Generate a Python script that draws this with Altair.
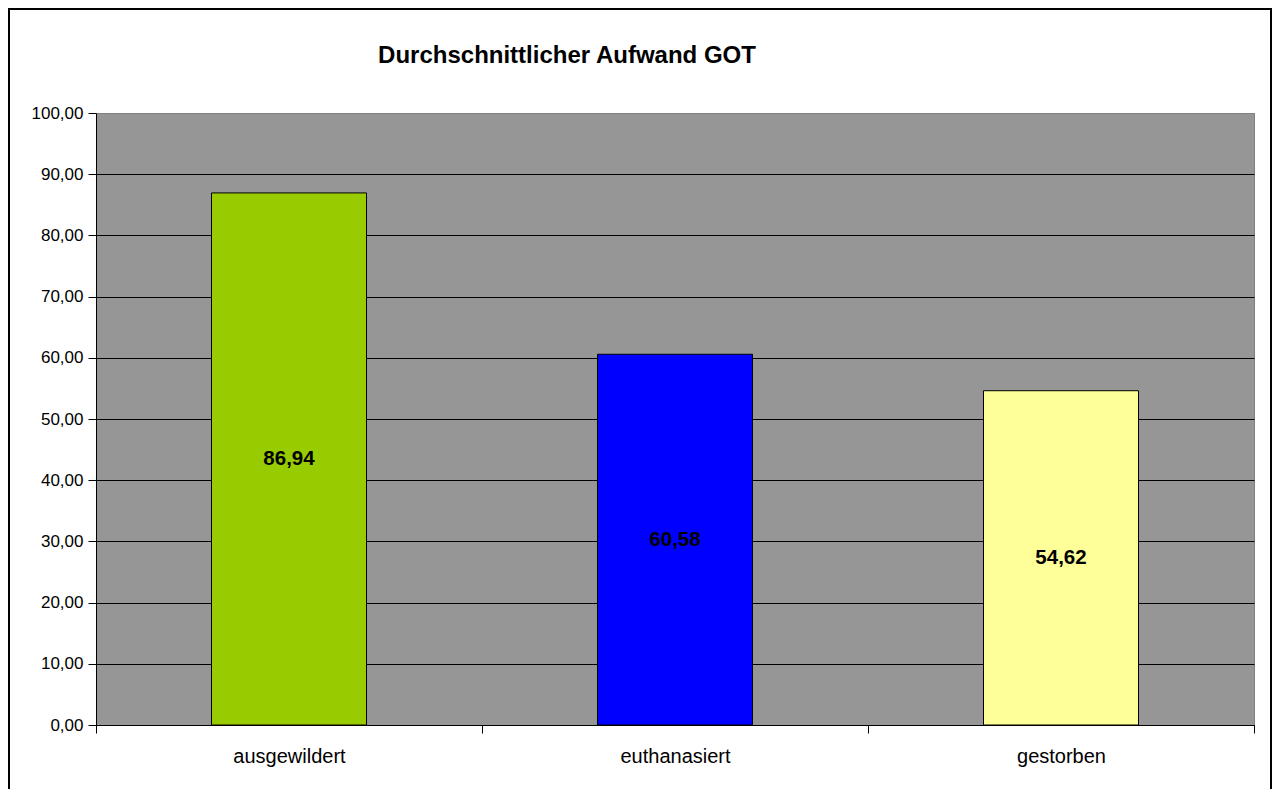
import altair as alt
import pandas as pd

categories = ["ausgewildert", "euthanasiert", "gestorben"]
values = [86.94, 60.58, 54.62]
labels = ["86,94", "60,58", "54,62"]
colors = ["#99CC00", "#0000FF", "#FFFF99"]
y_ticks = [0, 10, 20, 30, 40, 50, 60, 70, 80, 90, 100]
title_text = "Durchschnittlicher Aufwand GOT"

df = pd.DataFrame({"cat": categories, "val": values, "lab": labels})

FONT = "Liberation Sans"

x_enc = alt.X(
    "cat:N",
    sort=categories,
    scale=alt.Scale(paddingInner=0, paddingOuter=0),
    axis=alt.Axis(
        title=None, labelAngle=0, tickBand="extent", tickSize=8,
        tickColor="black", domainColor="black", labelFontSize=20,
        labelColor="black", labelPadding=13, grid=False, labelFont=FONT,
    ),
)
y_enc = alt.Y(
    "val:Q",
    scale=alt.Scale(domain=[0, 100], nice=False),
    axis=alt.Axis(
        title=None, values=y_ticks, tickSize=8, tickColor="black",
        domainColor="black", labelFontSize=17, labelColor="black",
        labelPadding=5, grid=True,
        gridColor={"condition": {"test": "datum.value === 100", "value": "#808080"}, "value": "#000000"},
        gridOpacity=1, labelFont=FONT,
        labelExpr="replace(format(datum.value, '.2f'), '.', ',')",
    ),
)

base = alt.Chart(df)

frame = alt.Chart(alt.Data(values=[{"a": 1}])).mark_rect(
    fill="transparent", stroke="black", strokeWidth=2
).encode(
    x=alt.value(-87), x2=alt.value(1175), y=alt.value(-104), y2=alt.value(700)
)

bars = base.mark_bar(stroke="black", strokeWidth=1, width=alt.RelativeBandSize(0.4016)).encode(
    x=x_enc,
    y=y_enc,
    color=alt.Color("cat:N", scale=alt.Scale(domain=categories, range=colors), legend=None),
)

text = base.transform_calculate(mid="datum.val / 2").mark_text(
    font=FONT, fontSize=20.5, fontWeight="bold", color="black", baseline="middle"
).encode(
    x=alt.X("cat:N", sort=categories),
    y=alt.Y("mid:Q"),
    text="lab:N",
)

chart = alt.layer(frame, bars, text).properties(
    width=1158,
    height=612,
    title=alt.TitleParams(
        title_text, font=FONT, fontSize=24, fontWeight="bold", color="black",
        anchor="middle", dx=-108, offset=-79, baseline="alphabetic",
    ),
    autosize=alt.AutoSizeParams(type="none"),
    padding={"left": 88, "top": 105, "right": 18, "bottom": 64},
    background="white",
).configure_view(fill="#969696", stroke="#808080", strokeWidth=1)

chart.save("out.html", embed_options={"renderer": "svg", "actions": False})
